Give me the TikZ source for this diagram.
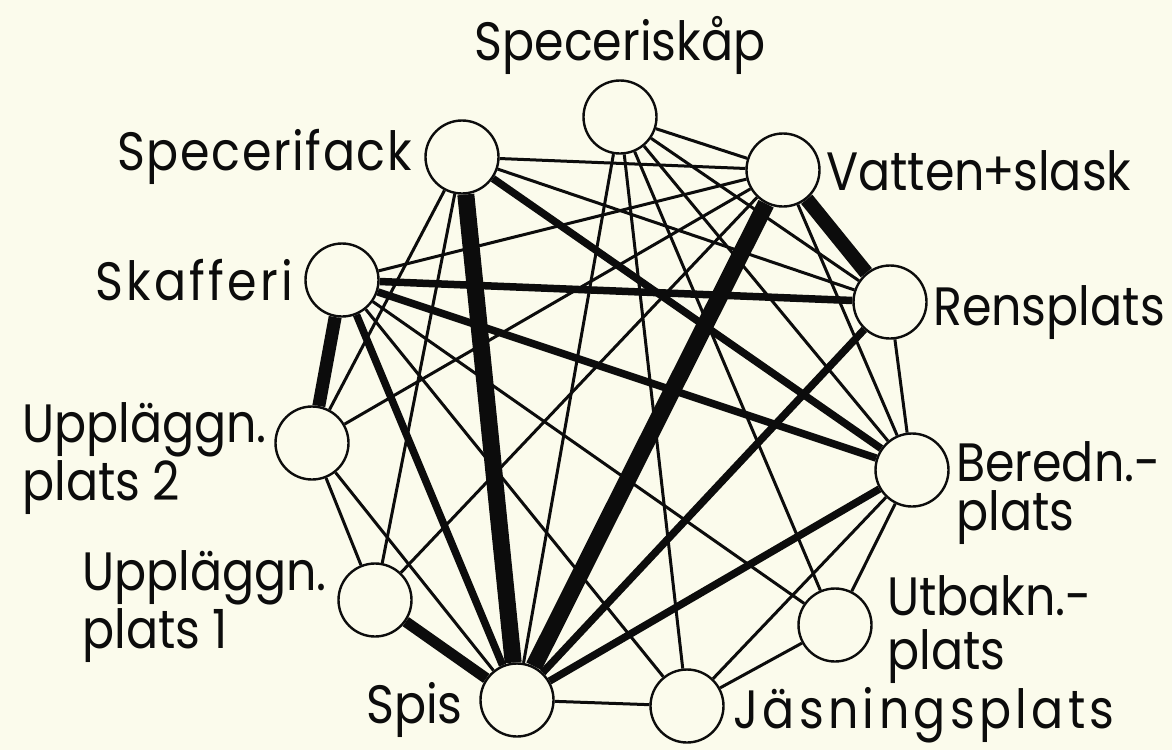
\documentclass[tikz,border=0pt]{standalone}
\usepackage{fontspec}
\setmainfont{Poppins}[FakeStretch=0.88]
\pgfdeclarelayer{bg}
\pgfsetlayers{bg,main}
\definecolor{paper}{RGB}{251,251,236}
\definecolor{ink}{RGB}{12,12,12}
\begin{document}
\begin{tikzpicture}[x=1pt,y=-1pt,
  stn/.style={circle,draw=ink,line width=2.4pt,fill=paper,minimum size=73pt,inner sep=0pt},
  lbl/.style={font=\fontsize{54}{58}\selectfont,inner sep=0pt,text=ink},
  wA/.style={draw=ink,line width=3pt},
  wB/.style={draw=ink,line width=7.5pt},
  wC/.style={draw=ink,line width=11pt},
  wD/.style={draw=ink,line width=13pt},
  wF/.style={draw=ink,line width=14.5pt},
  wE/.style={draw=ink,line width=17pt}]
\useasboundingbox (0,0) rectangle (1172,750);
% stations
\node[stn] (A) at (620,117) {};
\node[stn] (B) at (462,157) {};
\node[stn] (C) at (783,170) {};
\node[stn] (D) at (342,280) {};
\node[stn] (E) at (890,302) {};
\node[stn] (F) at (312,443) {};
\node[stn] (G) at (912,470) {};
\node[stn] (H) at (375,600) {};
\node[stn] (I) at (835,625) {};
\node[stn] (J) at (517,700) {};
\node[stn] (K) at (687,706) {};
% labels
\node[lbl,anchor=base] (tA) at (620,60) {Speceriskåp};
\node[lbl,anchor=base east] (tB) at (412,170) {\addfontfeature{LetterSpace=3}Specerifack};
\node[lbl,anchor=base west] (tC) at (826,190) {Vatten\kern-2pt+\kern-2pt slask};
\node[lbl,anchor=base east] (tD) at (293,300) {\addfontfeature{LetterSpace=6}Skafferi};
\node[lbl,anchor=base west] (tE) at (933,325) {Rensplats};
\node[lbl,anchor=base west] (tF1) at (22,442) {Uppläggn.};
\node[lbl,anchor=base west] (tF2) at (22,500) {plats 2};
\node[lbl,anchor=base west] (tG1) at (956,481) {Beredn.-};
\node[lbl,anchor=base west] (tG2) at (956,530) {plats};
\node[lbl,anchor=base west] (tH1) at (82,590) {Uppläggn.};
\node[lbl,anchor=base west] (tH2) at (82,648) {plats 1};
\node[lbl,anchor=base west] (tI1) at (887,615) {Utbakn.-};
\node[lbl,anchor=base west] (tI2) at (887,669) {plats};
\node[lbl,anchor=base east] (tJ) at (463,723) {Spis};
\node[lbl,anchor=base west] (tK) at (733,728) {\addfontfeature{LetterSpace=8}Jäsningsplats};
\begin{pgfonlayer}{bg}
\fill[paper] (0,0) rectangle (1172,750);
% thin connectors
\draw[wA] (A) -- (C);
\draw[wA] (A) -- (E);
\draw[wA] (A) -- (G);
\draw[wA] (A) -- (I);
\draw[wA] (A) -- (K);
\draw[wA] (A) -- (J);
\draw[wA] (B) -- (C);
\draw[wA] (B) -- (E);
\draw[wA] (B) -- (F);
\draw[wA] (B) -- (H);
\draw[wA] (C) -- (D);
\draw[wA] (C) -- (F);
\draw[wA] (C) -- (H);
\draw[wA] (C) -- (G);
\draw[wA] (D) -- (I);
\draw[wA] (D) -- (K);
\draw[wA] (E) -- (G);
\draw[wA] (F) -- (H);
\draw[wA] (F) -- (J);
\draw[wA] (G) -- (I);
\draw[wA] (G) -- (K);
\draw[wA] (I) -- (K);
\draw[wA] (J) -- (K);
% medium connectors
\draw[wB] (B) -- (G);
\draw[wB] (D) -- (J);
\draw[wB] (D) -- (E);
\draw[wB] (D) -- (G);
\draw[wB] (E) -- (J);
\draw[wB] (G) -- (J);
% heavy connectors
\draw[wC] (H) -- (J);
\draw[wF] (C) -- (E);
\draw[wD] (D) -- (F);
\draw[wE] (B) -- (J);
\draw[wE] (C) -- (J);
\end{pgfonlayer}
\end{tikzpicture}
\end{document}
